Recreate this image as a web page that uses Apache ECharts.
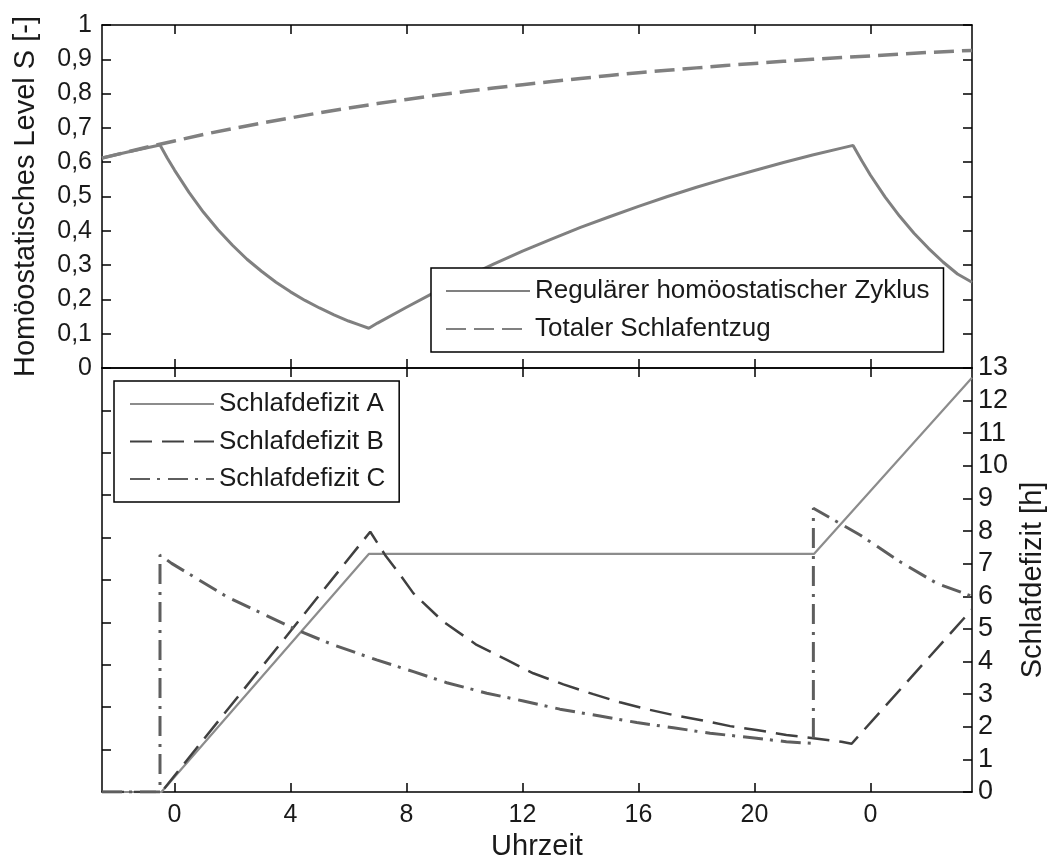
<!DOCTYPE html>
<html>
<head>
<meta charset="utf-8">
<script src="https://cdn.jsdelivr.net/npm/echarts@6/dist/echarts.min.js"></script>
<style>
html,body{margin:0;padding:0;background:#fff;}
#chart{width:1053px;height:868px;}
</style>
</head>
<body>
<div id="chart"></div>
<script>
// ---- data (hours) ----
const tickHours = [0, 4, 8, 12, 16, 20, 24];
const tickLabels = ['0', '4', '8', '12', '16', '20', '0'];

// Top panel: homeostatic level S [-]
const regHours = [-2.5, -1.5, -0.5, -0.25, 0, 0.5, 1, 1.5, 2, 2.5, 3, 3.5, 4, 4.5, 5, 5.5, 6, 6.35, 6.7,
  7, 8, 9, 10, 11, 12, 13, 14, 15, 16, 17, 18, 19, 20, 21, 22, 23, 23.4,
  23.7, 24, 24.5, 25, 25.5, 26, 26.5, 27, 27.5];
const regLevel = [0.612, 0.632, 0.650, 0.612, 0.577, 0.512, 0.454, 0.403, 0.358, 0.317, 0.282, 0.250, 0.222, 0.197, 0.175, 0.155, 0.137, 0.1265, 0.116,
  0.131, 0.177, 0.222, 0.263, 0.303, 0.341, 0.376, 0.410, 0.441, 0.471, 0.500, 0.527, 0.552, 0.576, 0.599, 0.621, 0.641, 0.649,
  0.604, 0.562, 0.499, 0.443, 0.393, 0.349, 0.309, 0.274, 0.250];

const depHours = [-2.5, -1, 0, 1, 2, 3, 4, 5, 6, 7, 8, 9, 10, 11, 12, 13, 14, 15, 16, 17, 18, 19, 20, 21, 22, 23, 24, 25, 26, 27, 27.5];
const depLevel = [0.612, 0.643, 0.662, 0.681, 0.698, 0.714, 0.729, 0.744, 0.758, 0.771, 0.783, 0.795, 0.806, 0.816, 0.826, 0.835, 0.844, 0.853, 0.861, 0.868, 0.875, 0.882, 0.888, 0.894, 0.900, 0.905, 0.910, 0.915, 0.920, 0.924, 0.926];

// Bottom panel: sleep deficit [h]
const aHours = [-2.5, -0.45, 6.7, 22.05, 27.5];
const aDeficit = [0, 0, 7.3, 7.3, 12.7];

const bHours = [-2.5, -0.45, 6.75, 7.26, 7.78, 8.24, 9.27, 10.42, 11.46, 12.37, 13.41, 14.44, 15.36, 16.28, 17.2, 18.12, 19.16, 20.07, 21.1, 22.03, 23.0, 23.35, 27.5];
const bDeficit = [0, 0, 7.98, 7.27, 6.66, 6.09, 5.22, 4.51, 4.05, 3.64, 3.30, 3.00, 2.75, 2.54, 2.36, 2.21, 2.02, 1.90, 1.75, 1.65, 1.54, 1.48, 5.6];

const cHours = [-2.5, -0.5, -0.5, -0.1, 1.8, 3.12, 4.21, 5.48, 6.97, 8.24, 9.39, 10.77, 12.03, 13.29, 14.67, 15.94, 17.2, 18.47, 20.07, 21.1, 22.03, 22.03, 23.64, 25.02, 26.28, 27.5];
const cDeficit = [0, 0, 7.27, 7.01, 5.99, 5.43, 4.97, 4.51, 4.05, 3.69, 3.35, 3.03, 2.79, 2.54, 2.33, 2.13, 1.97, 1.80, 1.65, 1.54, 1.49, 8.70, 7.88, 7.06, 6.40, 6.0];

const names = {
  reg: 'Regulärer homöostatischer Zyklus',
  dep: 'Totaler Schlafentzug',
  a: 'Schlafdefizit A',
  b: 'Schlafdefizit B',
  c: 'Schlafdefizit C'
};

// ---- build ----
const pairs = (xs, ys) => xs.map((x, i) => [x, ys[i]]);
const FONT = '"Liberation Sans", Arial, sans-serif';
const axisLine = { show: true, onZero: false, lineStyle: { color: '#000', width: 1.5 } };
const tick = { show: true, inside: true, length: 9, lineStyle: { color: '#000', width: 1.5 } };

function xAxisDef(grid, pos, labels) {
  return {
    type: 'value', gridIndex: grid, position: pos, min: -2.5, max: 27.5,
    axisLine: axisLine,
    axisTick: Object.assign({}, tick, { customValues: tickHours }),
    axisLabel: labels ? {
      show: true, customValues: tickHours, margin: 11,
      fontFamily: FONT, fontSize: 25, color: '#1a1a1a',
      formatter: v => tickLabels[tickHours.indexOf(Math.round(v))]
    } : { show: false },
    splitLine: { show: false },
    name: labels ? 'Uhrzeit' : '', nameLocation: 'middle', nameGap: 40,
    nameMoveOverlap: false,
    nameTextStyle: { fontFamily: FONT, fontSize: 29, color: '#1a1a1a' }
  };
}

const lvl = v => {
  const r = Math.round(v * 10) / 10;
  if (r === 0) return '0';
  if (r === 1) return '1';
  return r.toFixed(1).replace('.', ',');
};

const legendCommon = {
  orient: 'vertical', itemWidth: 84, itemHeight: 14,
  borderColor: '#000', borderWidth: 1.5, backgroundColor: '#fff', selectedMode: false, z: 10,
  itemStyle: { opacity: 0 },
  textStyle: { fontFamily: FONT, fontSize: 26, color: '#1a1a1a', lineHeight: 30 }
};

const option = {
  animation: false,
  backgroundColor: '#fff',
  grid: [
    { left: 102, top: 25, width: 870, height: 343, outerBoundsMode: 'none' },
    { left: 102, top: 368, width: 870, height: 424, outerBoundsMode: 'none' }
  ],
  xAxis: [
    xAxisDef(0, 'bottom', false),
    xAxisDef(0, 'top', false),
    xAxisDef(1, 'bottom', true),
    xAxisDef(1, 'top', false)
  ],
  yAxis: [
    {
      type: 'value', gridIndex: 0, position: 'left', min: 0, max: 1, interval: 0.1,
      axisLine: axisLine, axisTick: tick, splitLine: { show: false },
      axisLabel: { show: true, margin: 10, fontFamily: FONT, fontSize: 25, color: '#1a1a1a', formatter: lvl },
      name: 'Homöostatisches Level S [-]', nameLocation: 'middle', nameRotate: 90, nameGap: 62,
      nameMoveOverlap: false,
      nameTextStyle: { fontFamily: FONT, fontSize: 29, color: '#1a1a1a' }
    },
    {
      type: 'value', gridIndex: 0, position: 'right', min: 0, max: 1, interval: 0.1,
      axisLine: axisLine, axisTick: tick, splitLine: { show: false }, axisLabel: { show: false }
    },
    {
      type: 'value', gridIndex: 1, position: 'left', min: 0, max: 1, interval: 0.1,
      axisLine: axisLine, axisTick: tick, splitLine: { show: false }, axisLabel: { show: false }
    },
    {
      type: 'value', gridIndex: 1, position: 'right', min: 0, max: 13, interval: 1,
      axisLine: axisLine, axisTick: tick, splitLine: { show: false },
      axisLabel: { show: true, margin: 6, fontFamily: FONT, fontSize: 27, color: '#1a1a1a' },
      name: 'Schlafdefizit [h]', nameLocation: 'middle', nameRotate: 90, nameGap: 46,
      nameMoveOverlap: false,
      nameTextStyle: { fontFamily: FONT, fontSize: 29, color: '#1a1a1a' }
    }
  ],
  legend: [
    Object.assign({}, legendCommon, {
      data: [names.reg, names.dep], left: 431, top: 268,
      itemGap: 8, padding: [8, 14, 8, 14]
    }),
    Object.assign({}, legendCommon, {
      data: [names.a, names.b, names.c], left: 114, top: 381,
      itemGap: 7.5, padding: [8, 14, 8, 15]
    })
  ],
  series: [
    {
      name: names.dep, type: 'line', xAxisIndex: 0, yAxisIndex: 0, data: pairs(depHours, depLevel),
      symbol: 'none', color: '#808080', lineStyle: { color: '#808080', width: 3.5, type: [20, 8] }
    },
    {
      name: names.reg, type: 'line', xAxisIndex: 0, yAxisIndex: 0, data: pairs(regHours, regLevel),
      symbol: 'none', color: '#808080', lineStyle: { color: '#808080', width: 3, type: 'solid' }
    },
    {
      name: names.a, type: 'line', xAxisIndex: 2, yAxisIndex: 3, data: pairs(aHours, aDeficit),
      symbol: 'none', color: '#8c8c8c', lineStyle: { color: '#8c8c8c', width: 2.2, type: 'solid' }
    },
    {
      name: names.b, type: 'line', xAxisIndex: 2, yAxisIndex: 3, data: pairs(bHours, bDeficit),
      symbol: 'none', color: '#404040', lineStyle: { color: '#404040', width: 2.5, type: [22, 10] }
    },
    {
      name: names.c, type: 'line', xAxisIndex: 2, yAxisIndex: 3, data: pairs(cHours, cDeficit),
      symbol: 'none', color: '#5e5e5e', lineStyle: { color: '#5e5e5e', width: 3, type: [20, 7, 3, 8] }
    }
  ]
};

const chart = echarts.init(document.getElementById('chart'), null, { renderer: 'canvas' });
chart.setOption(option);
</script>
</body>
</html>
